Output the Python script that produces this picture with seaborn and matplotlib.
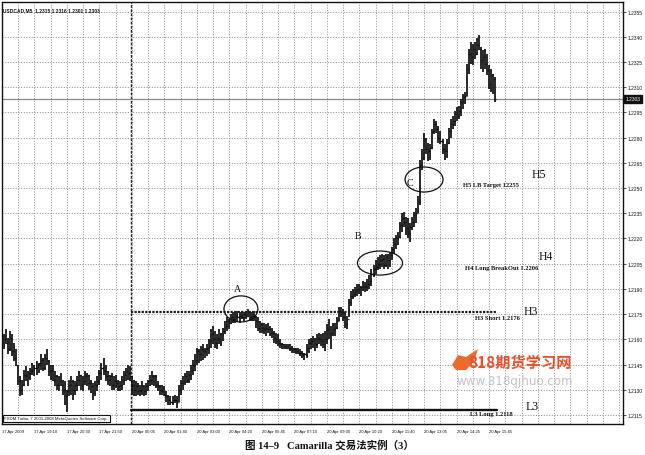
import numpy as np
import pandas as pd
import matplotlib
matplotlib.use("Agg")
import matplotlib.pyplot as plt
import matplotlib.transforms as mtrans
from matplotlib.patches import Ellipse, Polygon
import seaborn as sns

# ---------------- data (USDCAD M5) ----------------
high = [1.2163, 1.2166, 1.2161, 1.2165, 1.2163, 1.2158, 1.2154, 1.2145, 1.2138, 1.2136,
        1.2142, 1.2144, 1.2141, 1.2143, 1.2146, 1.2145, 1.2147, 1.2146, 1.2151, 1.2149,
        1.2151, 1.2154, 1.2148, 1.2145, 1.2145, 1.2141, 1.2139, 1.2138, 1.2140, 1.2136,
        1.2135, 1.2130, 1.2136, 1.2138, 1.2136, 1.2135, 1.2138, 1.2141, 1.2139, 1.2138,
        1.2141, 1.2140, 1.2139, 1.2136, 1.2134, 1.2135, 1.2138, 1.2142, 1.2146, 1.2149,
        1.2145, 1.2141, 1.2139, 1.2140, 1.2138, 1.2139, 1.2136, 1.2135, 1.2138, 1.2141,
        1.2143, 1.2145, 1.2144,
        1.2138, 1.2136, 1.2135, 1.2134, 1.2133, 1.2135, 1.2133, 1.2134, 1.2136, 1.2139,
        1.2141, 1.2139, 1.2139, 1.2135, 1.2133, 1.2133, 1.2132, 1.2129, 1.2127, 1.2126,
        1.2126, 1.2127, 1.2126, 1.2133, 1.2136, 1.2138, 1.2140, 1.2141, 1.2141, 1.2145,
        1.2148, 1.2151, 1.2155, 1.2154, 1.2156, 1.2157, 1.2155, 1.2157, 1.2160, 1.2166,
        1.2168, 1.2165, 1.2163, 1.2166, 1.2164, 1.2167, 1.2171, 1.2173, 1.2172, 1.2175,
        1.2176, 1.2176, 1.2177, 1.2176, 1.2177, 1.2176, 1.2177, 1.2178, 1.2177, 1.2176,
        1.2177, 1.2174, 1.2173, 1.2171, 1.2170, 1.2170, 1.2169, 1.2170, 1.2168, 1.2167,
        1.2165, 1.2164, 1.2163, 1.2160, 1.2158, 1.2157, 1.2157, 1.2157, 1.2157, 1.2156,
        1.2155, 1.2155, 1.2155, 1.2154, 1.2153, 1.2152, 1.2157, 1.2160, 1.2161, 1.2162,
        1.2161, 1.2163, 1.2164, 1.2163, 1.2164, 1.2165, 1.2169, 1.2172, 1.2168, 1.2170,
        1.2170, 1.2173, 1.2179, 1.2179, 1.2178, 1.2176, 1.2174, 1.2184, 1.2189, 1.2190,
        1.2191, 1.2193, 1.2193, 1.2192, 1.2195, 1.2194, 1.2196, 1.2198, 1.2202, 1.2204,
        1.2207, 1.2209, 1.2210, 1.2211, 1.2210, 1.2211, 1.2211, 1.2212, 1.2215, 1.2220,
        1.2222, 1.2224, 1.2230, 1.2235, 1.2236, 1.2233, 1.2232, 1.2229, 1.2233, 1.2236,
        1.2238, 1.2245, 1.2267, 1.2273, 1.2283, 1.2280, 1.2277, 1.2276, 1.2285, 1.2291,
        1.2290, 1.2287, 1.2284, 1.2279, 1.2276, 1.2279, 1.2286, 1.2291, 1.2293, 1.2296,
        1.2298, 1.2299, 1.2303, 1.2306, 1.2307, 1.2324, 1.2333, 1.2337, 1.2336, 1.2337,
        1.2339, 1.2341, 1.2334, 1.2332, 1.2333, 1.2330, 1.2323, 1.2321, 1.2318, 1.2316]

low = [1.2154, 1.2157, 1.2151, 1.2153, 1.2150, 1.2147, 1.2144, 1.2133, 1.2126, 1.2127,
       1.2132, 1.2135, 1.2132, 1.2136, 1.2139, 1.2138, 1.2139, 1.2140, 1.2142, 1.2141,
       1.2142, 1.2145, 1.2138, 1.2136, 1.2135, 1.2132, 1.2130, 1.2129, 1.2132, 1.2127,
       1.2121, 1.2117, 1.2126, 1.2127, 1.2124, 1.2127, 1.2129, 1.2132, 1.2130, 1.2129,
       1.2133, 1.2132, 1.2130, 1.2128, 1.2124, 1.2126, 1.2129, 1.2133, 1.2136, 1.2139,
       1.2135, 1.2133, 1.2132, 1.2130, 1.2130, 1.2131, 1.2129, 1.2129, 1.2130, 1.2133,
       1.2135, 1.2136, 1.2135,
       1.2127, 1.2126, 1.2126, 1.2127, 1.2126, 1.2127, 1.2126, 1.2127, 1.2129, 1.2132,
       1.2133, 1.2132, 1.2131, 1.2129, 1.2127, 1.2127, 1.2126, 1.2123, 1.2121, 1.2121,
       1.2121, 1.2122, 1.2119, 1.2123, 1.2127, 1.2130, 1.2133, 1.2134, 1.2134, 1.2136,
       1.2139, 1.2141, 1.2145, 1.2146, 1.2147, 1.2148, 1.2149, 1.2150, 1.2151, 1.2155,
       1.2157, 1.2155, 1.2154, 1.2157, 1.2156, 1.2159, 1.2163, 1.2165, 1.2166, 1.2169,
       1.2170, 1.2170, 1.2171, 1.2170, 1.2172, 1.2171, 1.2172, 1.2173, 1.2171, 1.2171,
       1.2171, 1.2167, 1.2165, 1.2164, 1.2164, 1.2163, 1.2162, 1.2164, 1.2162, 1.2161,
       1.2158, 1.2157, 1.2156, 1.2155, 1.2154, 1.2154, 1.2154, 1.2154, 1.2153, 1.2152,
       1.2152, 1.2151, 1.2151, 1.2150, 1.2149, 1.2148, 1.2149, 1.2152, 1.2154, 1.2155,
       1.2153, 1.2155, 1.2157, 1.2156, 1.2155, 1.2153, 1.2157, 1.2160, 1.2154, 1.2162,
       1.2162, 1.2166, 1.2171, 1.2173, 1.2171, 1.2167, 1.2166, 1.2173, 1.2180, 1.2184,
       1.2185, 1.2186, 1.2187, 1.2186, 1.2189, 1.2188, 1.2189, 1.2190, 1.2192, 1.2197,
       1.2199, 1.2201, 1.2202, 1.2203, 1.2202, 1.2203, 1.2202, 1.2203, 1.2207, 1.2211,
       1.2214, 1.2216, 1.2220, 1.2224, 1.2227, 1.2222, 1.2220, 1.2218, 1.2225, 1.2227,
       1.2229, 1.2235, 1.2240, 1.2261, 1.2267, 1.2270, 1.2266, 1.2267, 1.2273, 1.2282,
       1.2283, 1.2277, 1.2276, 1.2270, 1.2267, 1.2268, 1.2276, 1.2280, 1.2285, 1.2287,
       1.2290, 1.2291, 1.2293, 1.2297, 1.2300, 1.2305, 1.2318, 1.2324, 1.2323, 1.2327,
       1.2329, 1.2332, 1.2321, 1.2319, 1.2321, 1.2317, 1.2309, 1.2307, 1.2306, 1.2301]

close = [1.2160, 1.2158, 1.2154, 1.2161, 1.2153, 1.2149, 1.2145, 1.2135, 1.2130, 1.2133,
         1.2139, 1.2138, 1.2140, 1.2141, 1.2142, 1.2143, 1.2145, 1.2146, 1.2148, 1.2143,
         1.2149, 1.2147, 1.2141, 1.2142, 1.2136, 1.2138, 1.2133, 1.2135, 1.2133, 1.2130,
         1.2126, 1.2129, 1.2133, 1.2135, 1.2130, 1.2133, 1.2136, 1.2139, 1.2133, 1.2135,
         1.2138, 1.2139, 1.2134, 1.2132, 1.2128, 1.2133, 1.2135, 1.2140, 1.2143, 1.2141,
         1.2138, 1.2136, 1.2138, 1.2133, 1.2135, 1.2134, 1.2132, 1.2133, 1.2136, 1.2139,
         1.2141, 1.2140, 1.2138,
         1.2133, 1.2130, 1.2132, 1.2129, 1.2130, 1.2132, 1.2129, 1.2132, 1.2135, 1.2136,
         1.2138, 1.2138, 1.2133, 1.2132, 1.2130, 1.2129, 1.2127, 1.2126, 1.2124, 1.2123,
         1.2124, 1.2124, 1.2123, 1.2130, 1.2134, 1.2135, 1.2138, 1.2136, 1.2139, 1.2142,
         1.2145, 1.2148, 1.2153, 1.2151, 1.2154, 1.2153, 1.2154, 1.2155, 1.2159, 1.2163,
         1.2160, 1.2158, 1.2161, 1.2159, 1.2163, 1.2165, 1.2168, 1.2171, 1.2170, 1.2173,
         1.2172, 1.2174, 1.2173, 1.2174, 1.2173, 1.2175, 1.2174, 1.2176, 1.2173, 1.2174,
         1.2173, 1.2171, 1.2167, 1.2169, 1.2167, 1.2166, 1.2167, 1.2166, 1.2164, 1.2164,
         1.2161, 1.2159, 1.2158, 1.2157, 1.2157, 1.2156, 1.2155, 1.2155, 1.2155, 1.2154,
         1.2154, 1.2153, 1.2152, 1.2152, 1.2151, 1.2151, 1.2155, 1.2158, 1.2159, 1.2160,
         1.2157, 1.2161, 1.2160, 1.2159, 1.2157, 1.2160, 1.2166, 1.2163, 1.2164, 1.2166,
         1.2167, 1.2171, 1.2177, 1.2176, 1.2173, 1.2169, 1.2172, 1.2182, 1.2186, 1.2187,
         1.2189, 1.2190, 1.2191, 1.2191, 1.2192, 1.2191, 1.2193, 1.2195, 1.2199, 1.2202,
         1.2203, 1.2205, 1.2207, 1.2208, 1.2204, 1.2209, 1.2207, 1.2210, 1.2214, 1.2217,
         1.2220, 1.2221, 1.2228, 1.2232, 1.2230, 1.2226, 1.2223, 1.2227, 1.2230, 1.2234,
         1.2235, 1.2242, 1.2264, 1.2268, 1.2279, 1.2273, 1.2272, 1.2274, 1.2284, 1.2288,
         1.2285, 1.2280, 1.2278, 1.2273, 1.2272, 1.2277, 1.2284, 1.2288, 1.2290, 1.2294,
         1.2293, 1.2296, 1.2301, 1.2304, 1.2305, 1.2321, 1.2330, 1.2328, 1.2333, 1.2330,
         1.2335, 1.2333, 1.2326, 1.2328, 1.2324, 1.2320, 1.2312, 1.2317, 1.2315, 1.2303]

first_open = 1.2162

time_tick_bars = [-1, 15, 31, 47, 63, 79, 95, 111, 127, 143, 159, 175, 191, 207, 223, 239,
                  255, 271, 287, 303]
time_tick_labels = ["17 Apr 2009", "17 Apr 19:10", "17 Apr 20:30", "17 Apr 21:50",
                    "20 Apr 00:05", "20 Apr 01:40", "20 Apr 03:00", "20 Apr 04:20",
                    "20 Apr 05:45", "20 Apr 07:10", "20 Apr 09:00", "20 Apr 10:20",
                    "20 Apr 11:40", "20 Apr 13:05", "20 Apr 14:25", "20 Apr 15:45",
                    "", "", "", ""]
minor_grid_bars = [7, 23, 39, 55, 71, 87, 103, 119, 135, 151, 167, 183, 199, 215, 231,
                   247, 263, 279, 295]
price_ticks = [1.2115, 1.2130, 1.2145, 1.2160, 1.2175, 1.2190, 1.2205, 1.2220, 1.2235,
               1.2250, 1.2265, 1.2280, 1.2295, 1.2310, 1.2325, 1.2340, 1.2355]

session_break = 62.4
H3, L3 = 1.2176, 1.2118
bid = 1.2303
header = "USDCAD,M5  1.2315 1.2316 1.2301 1.2303"

# ---------------- figure ----------------
sns.set_style("white")
plt.rcParams['font.family'] = ['Liberation Sans', 'DejaVu Sans']

W, H = 645, 456
fig = plt.figure(figsize=(W / 100, H / 100), dpi=100)
ax = fig.add_axes([2 / W, 31 / H, 621 / W, 422 / H])

n = len(close)
idx = np.arange(n)
opn = np.array([first_open] + close[:-1])
df = pd.DataFrame({"bar": idx, "open": opn, "high": high, "low": low, "close": close})

ax.set_xlim(-0.985, 304.9)
ax.set_ylim(1.210963, 1.236071)
ax.set_axisbelow(True)

# grid
grid_kw = dict(color="#7a7a7a", lw=0.6, ls=(0, (1.2, 2.0)))
ax.set_yticks(price_ticks)
ax.set_xticks(time_tick_bars)
ax.set_xticks(minor_grid_bars, minor=True)
ax.grid(axis="y", which="major", **grid_kw)
ax.grid(axis="x", which="both", **grid_kw)

# OHLC bars
ax.vlines(df["bar"], df["low"], df["high"], colors="#0d0d0d", lw=1.25, zorder=3)
ax.hlines(df["open"], df["bar"] - 0.55, df["bar"], colors="#0d0d0d", lw=0.9, zorder=3)
ax.hlines(df["close"], df["bar"], df["bar"] + 0.55, colors="#0d0d0d", lw=0.9, zorder=3)

# level lines (seaborn)
lv = pd.DataFrame({"bar": [session_break, n], "H3": [H3, H3], "L3": [L3, L3]})
sns.lineplot(data=lv, x="bar", y="H3", ax=ax, color="#1a1a1a", lw=1.6,
             linestyle=(0, (1.0, 0.6)), zorder=4)
sns.lineplot(data=lv, x="bar", y="L3", ax=ax, color="#111111", lw=1.7, zorder=4)
ax.set_xlabel("")
ax.set_ylabel("")

# session separator and bid line
ax.axvline(session_break, color="#222222", lw=1.0, ls=(0, (2, 1)), zorder=2)
ax.axhline(bid, color="#888888", lw=0.9, zorder=2)

# ticks
ax.yaxis.tick_right()
ax.yaxis.set_major_formatter(matplotlib.ticker.FormatStrFormatter("%.4f"))
ax.tick_params(axis="y", which="major", direction="out", length=2, width=0.5,
               pad=1.2, labelsize=3.5, colors="#111111")
ax.set_xticklabels(time_tick_labels)
ax.tick_params(axis="x", which="major", direction="out", length=2, width=0.5,
               pad=1.5, labelsize=3.0, colors="#111111")
ax.tick_params(axis="x", which="minor", direction="out", length=1.2, width=0.4)
for lbl in ax.get_xticklabels():
    lbl.set_horizontalalignment("left")
for s in ax.spines.values():
    s.set_color("#111111")
    s.set_linewidth(1.0)

# bid price box
tr = mtrans.blended_transform_factory(ax.transAxes, ax.transData)
ax.text(1.004, bid, "1.2303", transform=tr, fontsize=3.5, color="white",
        va="center", ha="left",
        bbox=dict(boxstyle="square,pad=0.25", fc="#111111", ec="#111111"))

# header
ax.text(0.002, 0.983, header, transform=ax.transAxes, fontsize=3.5,
        fontweight="bold", va="center", ha="left", color="#111111")

# copyright box
ax.text(0.004, 0.009, "FXDM Turbo, 7 2001-2008 MetaQuotes Software Corp.",
        transform=ax.transAxes, fontsize=3.1, va="bottom", ha="left", color="#111111",
        bbox=dict(boxstyle="square,pad=0.35", fc="white", ec="#111111", lw=0.8))

# circles
for (cx, cy, w, h) in [(116.7, 1.21781, 16.7, 0.00155),
                       (185.2, 1.22054, 22.2, 0.00143),
                       (206.9, 1.22551, 18.7, 0.00149)]:
    ax.add_patch(Ellipse((cx, cy), w, h, fill=False, ec="#111111", lw=0.9, zorder=5))

serif = ['Liberation Serif', 'DejaVu Serif']
for (bx, py, t) in [(114.8, 1.21905, "A"), (174.4, 1.22215, "B"), (200.0, 1.22536, "C")]:
    ax.text(bx, py, t, family=serif, fontsize=7.2, ha="center", va="center", color="#111111")

for (bx, py, t) in [(226.1, 1.22524, "H5 LB Target 12255"),
                    (227.1, 1.22030, "H4 Long BreakOut 1.2206"),
                    (232.0, 1.21727, "H3 Short 1.2176"),
                    (229.6, 1.21160, "L3 Long 1.2118")]:
    ax.text(bx, py, t, family=serif, fontsize=4.7, fontweight="bold",
            ha="left", va="center", color="#111111", zorder=6)

for (bx, py, t) in [(260.1, 1.22584, "H5"), (263.1, 1.22096, "H4"),
                    (255.7, 1.21769, "H3"), (256.7, 1.21203, "L3")]:
    ax.text(bx, py, t, family=serif, fontsize=8.5, ha="left", va="center", color="#111111")

# watermark
cjk = ['Noto Sans CJK SC', 'DejaVu Sans']
fig.text(468 / W, 1 - 363 / H, "818期货学习网", family=cjk, fontsize=11,
         fontweight="bold", color="#e8502a", ha="left", va="center")
fig.text(457 / W, 1 - 382 / H, "www.818qjhuo.com", family=['DejaVu Sans'], fontsize=8.6,
         color="#c4c4c4", ha="left", va="center")
flame = Polygon([[452 / W, 1 - 366 / H], [458 / W, 1 - 356 / H], [466 / W, 1 - 358 / H],
                 [478 / W, 1 - 350 / H], [474 / W, 1 - 362 / H], [466 / W, 1 - 371 / H],
                 [456 / W, 1 - 371 / H]], closed=True, transform=fig.transFigure,
                fc="#ef6a2a", ec="none")
fig.patches.append(flame)

# caption
fig.text(329 / W, 1 - 445 / H, "图 14–9   Camarilla 交易法实例（3）",
         family=['Liberation Serif', 'Noto Sans CJK SC'], fontsize=7.6, fontweight="bold",
         ha="center", va="center", color="#111111")

fig.savefig("out.png", dpi=100)
